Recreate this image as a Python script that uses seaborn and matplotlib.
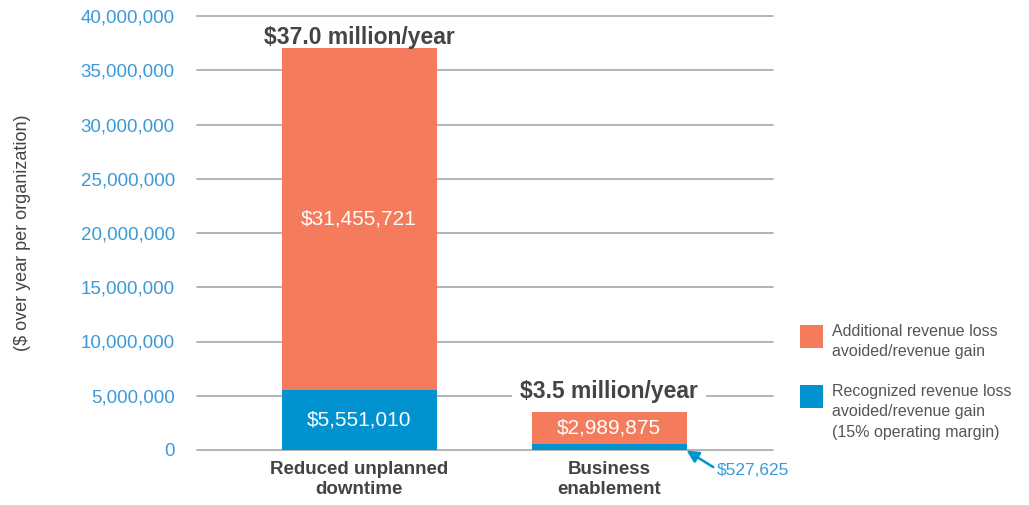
import matplotlib
matplotlib.use("Agg")
import matplotlib.pyplot as plt
import seaborn as sns
import pandas as pd
from matplotlib.patches import Rectangle

categories = ["Reduced unplanned\ndowntime", "Business\nenablement"]
recognized = [5551010, 527625]
additional = [31455721, 2989875]
totals_text = ["$37.0 million/year", "$3.5 million/year"]
yticks = [0, 5000000, 10000000, 15000000, 20000000, 25000000, 30000000, 35000000, 40000000]
legend_labels = ["Additional revenue loss\navoided/revenue gain",
                 "Recognized revenue loss\navoided/revenue gain\n(15% operating margin)"]

ORANGE = "#F47B5C"
BLUE = "#0093D0"
TICKBLUE = "#3A9AD9"
GRID = "#A8A8A8"
DARK = "#444444"

sns.set_style("white")
plt.rcParams['font.family'] = ['Liberation Sans', 'DejaVu Sans']

fig = plt.figure(figsize=(10.29, 5.05), dpi=100)
ax = fig.add_axes([197/1029, 1-450/505, 576/1029, 434/505])

df = pd.DataFrame({"cat": categories, "rec": recognized, "add": additional})
df["total"] = df["rec"] + df["add"]

sns.barplot(data=df, x="cat", y="total", color=ORANGE, width=0.62, ax=ax,
            saturation=1, zorder=3, linewidth=0, edgecolor="none")
sns.barplot(data=df, x="cat", y="rec", color=BLUE, width=0.62, ax=ax,
            saturation=1, zorder=3, linewidth=0, edgecolor="none")

ax.set_xlim(-0.648, 1.656)
ax.set_ylim(0, 40000000)
ax.set_yticks(yticks)
ax.set_yticklabels([f"{v:,}" for v in yticks], color=TICKBLUE, fontsize=13.5)
for y in yticks:
    ax.axhline(y, color=GRID, lw=1.2, zorder=1, clip_on=False)
ax.tick_params(axis="y", length=0, pad=16)
ax.tick_params(axis="x", length=0, pad=8)
ax.set_xticks([0, 1])
ax.set_xticklabels(categories, fontsize=13.5, fontweight="bold", color=DARK,
                   linespacing=1.25)
ax.set_xlabel("")
ax.set_ylabel("($ over year per organization)", fontsize=13, color=DARK,
              labelpad=36)
for s in ax.spines.values():
    s.set_visible(False)

# segment labels
for i in range(len(categories)):
    r, a = recognized[i], additional[i]
    ax.text(i, r + a / 2, f"${a:,}", ha="center", va="center", color="white",
            fontsize=15, zorder=5)
ax.text(0, recognized[0] / 2, f"${recognized[0]:,}", ha="center", va="center",
        color="white", fontsize=15, zorder=5)

# total labels
ax.text(0, 38000000, totals_text[0], ha="center", va="center", color=DARK,
        fontsize=16.5, fontweight="bold", zorder=6)
ax.text(1, 5400000, totals_text[1], ha="center", va="center", color=DARK,
        fontsize=16.5, fontweight="bold", zorder=6,
        bbox=dict(facecolor="white", edgecolor="none", pad=6))

# annotation for small blue segment
ax.annotate(f"${recognized[1]:,}", xy=(1.31, -50000), xytext=(1.43, -1900000),
            color=TICKBLUE, fontsize=12.5, ha="left", va="center",
            annotation_clip=False,
            arrowprops=dict(arrowstyle="-|>", color=BLUE, lw=1.8,
                            shrinkA=0, shrinkB=0, mutation_scale=18,
                            relpos=(0.0, 0.6)))

# legend (manual)
entries_y = [325, 385]
colors = [ORANGE, BLUE]
for yy, c, lab in zip(entries_y, colors, legend_labels):
    fig.patches.append(Rectangle((800/1029, 1-(yy+23)/505), 23/1029, 23/505,
                                 transform=fig.transFigure, facecolor=c,
                                 edgecolor="none"))
    fig.text(832/1029, 1-(yy-1)/505, lab, ha="left", va="top", fontsize=11.5,
             color="#555555", linespacing=1.45)

fig.savefig("out.png", dpi=100)
